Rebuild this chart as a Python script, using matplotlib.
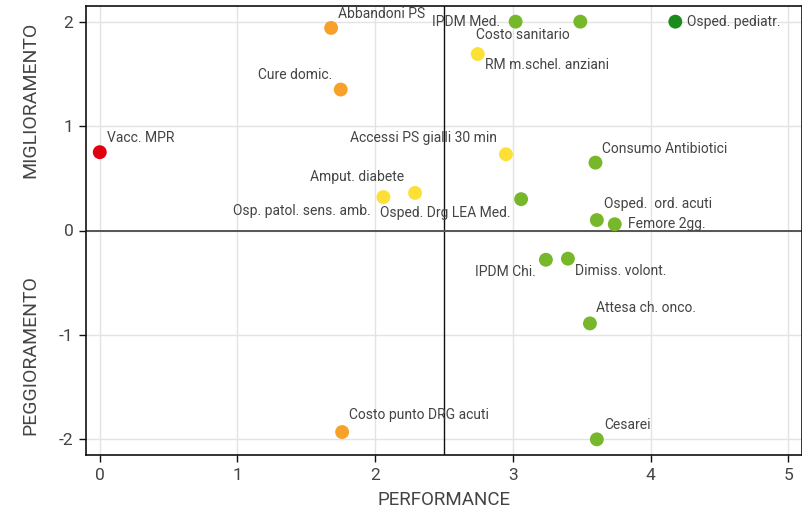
import matplotlib
matplotlib.use("Agg")
import matplotlib.pyplot as plt

# ---- data ----
labels = ["Vacc. MPR", "Abbandoni PS", "Cure domic.", "Costo punto DRG acuti",
          "Amput. diabete", "Osp. patol. sens. amb.", "Osped. Drg LEA Med.",
          "Accessi PS gialli 30 min", "IPDM Med.", "Costo sanitario",
          "RM m.schel. anziani", "Osped. pediatr.", "Consumo Antibiotici",
          "Osped.  ord. acuti", "Femore 2gg.", "IPDM Chi.", "Dimiss. volont.",
          "Attesa ch. onco.", "Cesarei"]
performance = [0.00, 1.68, 1.75, 1.76, 2.29, 2.06, 3.06, 2.95, 3.02, 3.49,
               2.745, 4.18, 3.60, 3.61, 3.74, 3.24, 3.40, 3.56, 3.61]
trend = [0.75, 1.94, 1.35, -1.93, 0.36, 0.32, 0.30, 0.73, 2.00, 2.00,
         1.69, 2.00, 0.65, 0.10, 0.06, -0.28, -0.27, -0.89, -2.00]
band = ["red", "orange", "orange", "orange", "yellow", "yellow", "green",
        "yellow", "green", "green", "yellow", "darkgreen", "green", "green",
        "green", "green", "green", "green", "green"]
xticks = [0, 1, 2, 3, 4, 5]
yticks = [-2, -1, 0, 1, 2]

# ---- styles ----
palette = {"red": "#e0000f", "orange": "#f7a12a", "yellow": "#fde036",
           "green": "#76b82a", "darkgreen": "#1b8c1b"}
# label offsets in pixels (dx, dy, ha)
offsets = [(7, 14, "left"), (7, 14, "left"), (-8, 15, "right"), (7, 17, "left"),
           (-11, 16, "right"), (-13, -14, "right"), (-11, -14, "right"),
           (-9, 16, "right"), (-15, 0, "right"), (-11, -13, "right"),
           (7, -11, "left"), (12, 0, "left"), (7, 14, "left"), (7, 16, "left"),
           (13, 0, "left"), (-10, -12, "right"), (7, -12, "left"),
           (6, 15, "left"), (7, 14, "left")]

plt.rcParams["font.family"] = ["Roboto", "DejaVu Sans"]
plt.rcParams["axes.unicode_minus"] = False
txtc = "#444444"

fig = plt.figure(figsize=(8.02, 5.13), dpi=100)
ax = fig.add_axes([86 / 802, 58 / 513, 1 - 86 / 802, (455 - 6) / 513])
ax.set_xlim(-0.1, 5.1)
ax.set_ylim(-2.15, 2.15)
ax.set_xticks(xticks)
ax.set_yticks(yticks)
ax.grid(True, color="#e3e3e3", linewidth=1)
ax.set_axisbelow(True)
for s in ax.spines.values():
    s.set_color("#111111")
    s.set_linewidth(1.2)
ax.tick_params(direction="out", length=5, width=1, colors="#111111",
               labelcolor=txtc, labelsize=12.5, pad=4)

ax.axvline(2.5, color="#111111", linewidth=1, zorder=1.5)
ax.axhline(0, color="#555555", linewidth=1.4, zorder=1.5)

ax.scatter(performance, trend, s=100, c=[palette[b] for b in band],
           linewidths=0, zorder=3)
for x, y, lab, (dx, dy, ha) in zip(performance, trend, labels, offsets):
    ax.annotate(lab, (x, y), xytext=(dx, dy), textcoords="offset pixels",
                ha=ha, va="center", fontsize=10, color=txtc, zorder=4)

ax.set_xlabel("PERFORMANCE", fontsize=13.5, color=txtc, labelpad=6)
fig.text(30 / 802, 1 - 100 / 513, "MIGLIORAMENTO", rotation=90, ha="center",
         va="center", fontsize=14, color=txtc)
fig.text(30 / 802, 1 - 355 / 513, "PEGGIORAMENTO", rotation=90, ha="center",
         va="center", fontsize=14, color=txtc)

fig.savefig("out.png", dpi=100)
